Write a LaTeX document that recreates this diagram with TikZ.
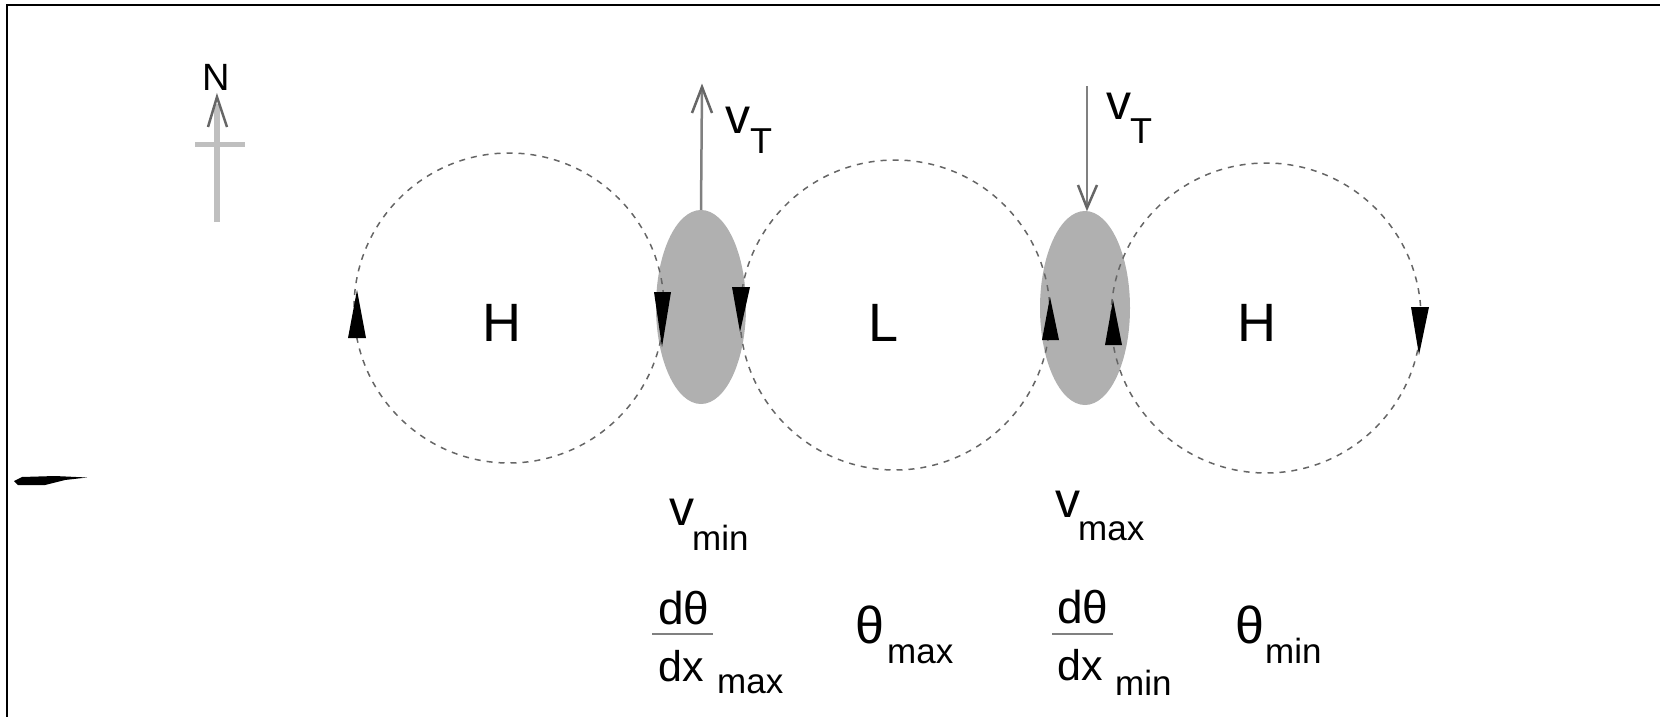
\documentclass[tikz,border=0pt]{standalone}
\usepackage{fontspec}
\setmainfont{Liberation Sans}
\usetikzlibrary{shapes.geometric}
\definecolor{ellgray}{gray}{0.69}
\definecolor{dashgray}{gray}{0.4}
\definecolor{shaftgray}{gray}{0.5}
\definecolor{compassgray}{gray}{0.75}
\definecolor{headgray}{gray}{0.4}
\tikzset{
 cell/.style={circle, draw=dashgray, dash pattern=on 6pt off 6pt, line width=1.5pt, minimum size=310pt, inner sep=0pt},
 spot/.style={ellipse, fill=ellgray, minimum width=90pt, minimum height=194pt, inner sep=0pt},
 flowtip/.style={fill=black},
 biglbl/.style={inner sep=0pt, anchor=base west, font=\fontsize{54}{54}\selectfont},
 vlbl/.style={inner sep=0pt, anchor=base west, font=\fontsize{50}{50}\selectfont},
 dlbl/.style={inner sep=0pt, anchor=base west, font=\fontsize{46}{46}\selectfont},
 xlbl/.style={inner sep=0pt, anchor=base west, font=\fontsize{43}{43}\selectfont},
 thlbl/.style={inner sep=0pt, anchor=base west, font=\fontsize{52}{52}\selectfont},
 sublbl/.style={inner sep=0pt, anchor=base west, font=\fontsize{35}{35}\selectfont},
 shaft/.style={draw=shaftgray, line width=2.5pt},
 chevron/.style={draw=headgray, line width=2.5pt},
 fracbar/.style={draw=shaftgray, line width=2.5pt},
}
\begin{document}
\begin{tikzpicture}[x=1pt,y=-1pt]
\useasboundingbox (0,0) rectangle (1660,717);
% frame
\coordinate (fbl) at (7,717);
\coordinate (ftl) at (7,5.5);
\coordinate (ftr) at (1660,5.5);
\draw[line width=2pt] (fbl) -- (ftl) -- (ftr);
% scribble
\fill (14,481) -- (22,477) -- (55,476) -- (87,477.5) -- (65,480) -- (45,485) -- (18,485) -- cycle;
% compass
\node[inner sep=0pt, font=\fontsize{38}{38}\selectfont] (north) at (216,77) {N};
\coordinate (cbot) at (217,222);
\coordinate (ctop) at (217,104);
\coordinate (ctip) at (217,97);
\coordinate (cxl) at (195,144);
\coordinate (cxr) at (245,144);
\coordinate (cwl) at (208,127);
\coordinate (cwr) at (227,127);
\draw[compassgray, line width=6pt] (cbot) -- (ctop);
\draw[compassgray, line width=5pt] (cxl) -- (cxr);
\draw[chevron] (cwl) -- (ctip) -- (cwr);
% spots
\node[spot] (e1) at (701,307) {};
\node[spot] (e2) at (1085,308) {};
% cells
\node[cell] (c1) at (509,308) {};
\node[cell] (c2) at (895,315) {};
\node[cell] (c3) at (1266,318) {};
% flow arrowheads
\fill[flowtip] (357,290) -- (348,338) -- (366,338) -- cycle;
\fill[flowtip] (662,347) -- (654,292) -- (671,292) -- cycle;
\fill[flowtip] (740,332) -- (732,287) -- (750,287) -- cycle;
\fill[flowtip] (1050,297) -- (1042,340) -- (1059,340) -- cycle;
\fill[flowtip] (1113,300) -- (1105,345) -- (1122,345) -- cycle;
\fill[flowtip] (1419,355) -- (1411,307) -- (1429,307) -- cycle;
% vT arrows
\coordinate (vt1tip) at (702,87);
\draw[shaft] (e1.north) -- (vt1tip);
\draw[chevron] (692,113) -- (vt1tip) -- (712,113);
\coordinate (vt2top) at (1087,86);
\coordinate (vt2tip) at (1087,208);
\draw[shaft] (vt2top) -- (vt2tip);
\draw[chevron] (1078,185) -- (vt2tip) -- (1097,185);
\node[vlbl] (vt1v) at (725,133) {v};
\node[sublbl, font=\fontsize{36}{36}\selectfont] (vt1t) at (750,153) {T};
\node[vlbl] (vt2v) at (1106,119) {v};
\node[sublbl, font=\fontsize{36}{36}\selectfont] (vt2t) at (1130,143) {T};
% cell labels
\node[biglbl] (h1) at (482,341) {H};
\node[biglbl] (l1) at (868,341) {L};
\node[biglbl] (h2) at (1237,341) {H};
% bottom labels
\node[vlbl] (vminv) at (669,525) {v};
\node[sublbl] (vmins) at (692,550) {min};
\node[vlbl] (vmaxv) at (1055,517) {v};
\node[sublbl] (vmaxs) at (1078,540) {max};
\node[dlbl] (d1num) at (658,624) {dθ};
\draw[fracbar] (652,634) -- (713,634);
\node[xlbl] (d1den) at (658,681) {dx};
\node[sublbl] (d1sub) at (717,693) {max};
\node[dlbl] (d2num) at (1057,623) {dθ};
\draw[fracbar] (1052,634) -- (1113,634);
\node[xlbl] (d2den) at (1057,680) {dx};
\node[sublbl] (d2sub) at (1115,695) {min};
\node[thlbl] (thmax) at (855,643) {θ};
\node[sublbl] (thmaxs) at (887,663) {max};
\node[thlbl] (thmin) at (1235,643) {θ};
\node[sublbl] (thmins) at (1265,663) {min};
\end{tikzpicture}
\end{document}
